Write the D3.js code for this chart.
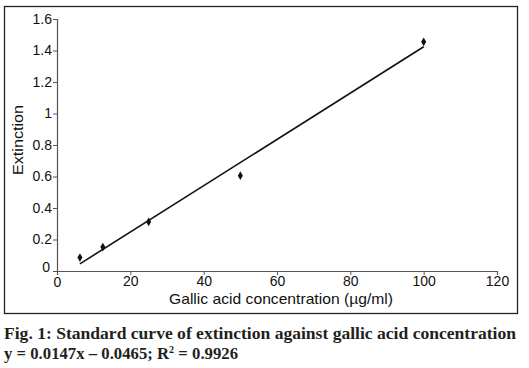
<!DOCTYPE html>
<html>
<head>
<meta charset="utf-8">
<script src="https://cdn.jsdelivr.net/npm/d3@7"></script>
<style>
  body { margin: 0; background: #fff; }
  svg { display: block; }
</style>
</head>
<body>
<svg id="chart" width="529" height="368"></svg>
<script>
// gallic acid standard curve
const conc = [6.25, 12.5, 25, 50, 100];
const extinction = [0.085, 0.152, 0.312, 0.605, 1.455];
const slope = 0.0147;
const intercept = -0.0465;
const xTicks = [0, 20, 40, 60, 80, 100, 120];
const yTicks = [0, 0.2, 0.4, 0.6, 0.8, 1, 1.2, 1.4, 1.6];

const svg = d3.select("#chart");
const margin = { left: 57, top: 19, right: 497, bottom: 271 };

const x = d3.scaleLinear().domain([0, 120]).range([margin.left, margin.right]);
const y = d3.scaleLinear().domain([0, 1.6]).range([margin.bottom, margin.top]);

// frame round the chart
svg.append("rect")
  .attr("x", 4.5).attr("y", 6.5)
  .attr("width", 513).attr("height", 307)
  .attr("fill", "none").attr("stroke", "#222").attr("stroke-width", 1.3);

const xAxis = svg.append("g")
  .attr("transform", `translate(0,${margin.bottom})`)
  .call(d3.axisBottom(x).tickValues(xTicks).tickSize(4).tickPadding(1).tickFormat(d3.format("d")));

const yAxis = svg.append("g")
  .attr("transform", `translate(${margin.left},0)`)
  .call(d3.axisLeft(y).tickValues(yTicks).tickSize(4).tickFormat(d => d === 0 ? "0" : d3.format("")(+d.toFixed(1))));

[xAxis, yAxis].forEach(g => {
  g.select(".domain").attr("stroke", "#555").attr("stroke-width", 1.2);
  g.selectAll(".tick line").attr("stroke", "#555");
  g.selectAll("text")
    .attr("font-family", "Liberation Sans, Arial, sans-serif")
    .attr("font-size", 14).attr("fill", "#111");
});
yAxis.selectAll("text").attr("x", -5);
yAxis.selectAll(".tick").filter(d => d === 0).select("text").attr("x", -7).attr("dy", "0.0em");
xAxis.selectAll(".tick").filter(d => d === 0).select("text").attr("dy", "0.8em");

// axis titles
svg.append("text")
  .attr("x", 281).attr("y", 304)
  .attr("text-anchor", "middle")
  .attr("font-family", "Liberation Sans, Arial, sans-serif")
  .attr("font-size", 15).attr("fill", "#111")
  .attr("textLength", 224).attr("lengthAdjust", "spacingAndGlyphs")
  .text("Gallic acid concentration (µg/ml)");

svg.append("text")
  .attr("transform", "translate(23,140) rotate(-90)")
  .attr("text-anchor", "middle")
  .attr("font-family", "Liberation Sans, Arial, sans-serif")
  .attr("font-size", 15).attr("fill", "#111")
  .attr("textLength", 70).attr("lengthAdjust", "spacingAndGlyphs")
  .text("Extinction");

// fitted line
const xExt = d3.extent(conc);
svg.append("line")
  .attr("x1", x(xExt[0])).attr("y1", y(slope * xExt[0] + intercept))
  .attr("x2", x(xExt[1])).attr("y2", y(slope * xExt[1] + intercept))
  .attr("stroke", "#111").attr("stroke-width", 1.6);

// data points
svg.append("g").selectAll("path")
  .data(conc.map((c, i) => [c, extinction[i]]))
  .join("path")
  .attr("transform", d => `translate(${x(d[0])},${y(d[1])})`)
  .attr("d", d3.symbol(d3.symbolDiamond, 22))
  .attr("fill", "#111");

// caption
const caption = svg.append("g")
  .attr("font-family", "Liberation Serif, Times New Roman, serif")
  .attr("font-weight", "bold").attr("fill", "#231f20");
caption.append("text")
  .attr("x", 4).attr("y", 339).attr("font-size", 16.5)
  .attr("textLength", 512).attr("lengthAdjust", "spacingAndGlyphs")
  .text("Fig. 1: Standard curve of extinction against gallic acid concentration");
const eq = caption.append("text")
  .attr("x", 4).attr("y", 359).attr("font-size", 16.5)
  .attr("textLength", 234).attr("lengthAdjust", "spacingAndGlyphs");
eq.append("tspan").text("y = 0.0147x \u2013 0.0465; R");
eq.append("tspan").attr("font-size", 10).attr("dy", -6).text("2");
eq.append("tspan").attr("dy", 6).text(" = 0.9926");
</script>
</body>
</html>
